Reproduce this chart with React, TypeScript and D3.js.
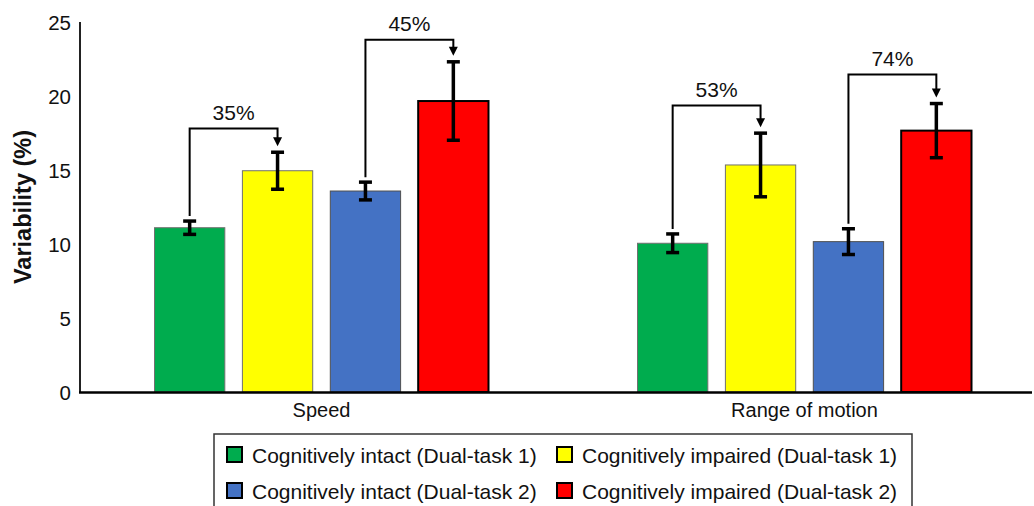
import React from "react";
import * as d3 from "d3";

const categories = ["Speed", "Range of motion"];
const seriesNames = [
  "Cognitively intact (Dual-task 1)",
  "Cognitively impaired (Dual-task 1)",
  "Cognitively intact (Dual-task 2)",
  "Cognitively impaired (Dual-task 2)",
];
const seriesColors = ["#00AC4E", "#FFFF00", "#4472C4", "#FF0000"];
const speedValues = [11.1, 14.95, 13.58, 19.66];
const speedErrors = [0.45, 1.25, 0.6, 2.65];
const romValues = [10.05, 15.34, 10.16, 17.66];
const romErrors = [0.63, 2.15, 0.87, 1.83];
const yTicks = [0, 5, 10, 15, 20, 25];

const annLabels = ["35%", "45%", "53%", "74%"];
const annGroups = [0, 0, 1, 1];
const annFrom = [0, 2, 0, 2];
const annTo = [1, 3, 1, 3];
const annLevels = [17.8, 23.8, 19.35, 21.45];

const W = 1034;
const H = 506;
const FONT = "'Liberation Sans', Arial, Helvetica, sans-serif";

export default function App() {
  const values = [speedValues, romValues];
  const errors = [speedErrors, romErrors];

  const y = d3.scaleLinear().domain([0, 25]).range([392, 22]);
  const x0 = d3.scaleBand<string>().domain(categories).range([80, 1046]).padding(0);
  const innerW = 334;
  const x1 = d3
    .scaleBand<number>()
    .domain([0, 1, 2, 3])
    .range([0, innerW])
    .paddingInner(0.2)
    .paddingOuter(0);

  const groupStart = (gi: number) =>
    (x0(categories[gi]) as number) + x0.bandwidth() / 2 - innerW / 2;
  const barX = (gi: number, si: number) => groupStart(gi) + (x1(si) as number);
  const barC = (gi: number, si: number) => barX(gi, si) + x1.bandwidth() / 2;

  const strokes = ["#707070", "#707070", "#505050", "#000"];
  const strokeW = [1, 1, 1, 2];

  return (
    <svg
      width={W}
      height={H}
      style={{ position: "absolute", left: 0, top: 0, background: "#fff" }}
      fontFamily={FONT}
    >
      {/* y tick labels */}
      {yTicks.map((t) => (
        <text
          key={t}
          x={71}
          y={y(t)}
          textAnchor="end"
          dominantBaseline="central"
          fontSize={20.5}
          fill="#111"
        >
          {t}
        </text>
      ))}
      <text
        transform={`translate(23,${207}) rotate(-90)`}
        textAnchor="middle"
        dominantBaseline="central"
        fontSize={23.5}
        fontWeight="bold"
        fill="#111"
      >
        Variability (%)
      </text>

      {/* bars */}
      {categories.map((c, gi) =>
        values[gi].map((v, si) => (
          <rect
            key={`${gi}-${si}`}
            x={barX(gi, si)}
            y={y(v)}
            width={x1.bandwidth()}
            height={y(0) - y(v)}
            fill={seriesColors[si]}
            stroke={strokes[si]}
            strokeWidth={strokeW[si]}
          />
        ))
      )}

      {/* error bars */}
      {categories.map((c, gi) =>
        values[gi].map((v, si) => {
          const cx = barC(gi, si);
          const e = errors[gi][si];
          return (
            <g key={`e${gi}-${si}`} stroke="#000" strokeWidth={3.5}>
              <line x1={cx} x2={cx} y1={y(v + e)} y2={y(v - e)} />
              <line x1={cx - 6.5} x2={cx + 6.5} y1={y(v + e)} y2={y(v + e)} />
              <line x1={cx - 6.5} x2={cx + 6.5} y1={y(v - e)} y2={y(v - e)} />
            </g>
          );
        })
      )}

      {/* axes */}
      <line x1={80} x2={80} y1={22} y2={393} stroke="#222" strokeWidth={2} />
      <line x1={79} x2={1032} y1={392.5} y2={392.5} stroke="#000" strokeWidth={2.5} />

      {categories.map((c) => (
        <text
          key={c}
          x={(x0(c) as number) + x0.bandwidth() / 2}
          y={417}
          textAnchor="middle"
          fontSize={20}
          fill="#111"
        >
          {c}
        </text>
      ))}

      {/* annotations */}
      {annLabels.map((lab, i) => {
        const gi = annGroups[i];
        const fi = annFrom[i];
        const ti = annTo[i];
        const xa = barC(gi, fi);
        const xb = barC(gi, ti);
        const ya = y(values[gi][fi] + errors[gi][fi]) - 5;
        const yTip = y(values[gi][ti] + errors[gi][ti]) - 6;
        const yl = y(annLevels[i]);
        return (
          <g key={lab}>
            <path
              d={`M${xa},${ya} V${yl} H${xb} V${yTip - 7}`}
              fill="none"
              stroke="#000"
              strokeWidth={2}
            />
            <path
              d={`M${xb - 4.5},${yTip - 9} L${xb + 4.5},${yTip - 9} L${xb},${yTip} Z`}
              fill="#000"
            />
            <text
              x={(xa + xb) / 2}
              y={yl - 9}
              textAnchor="middle"
              fontSize={21}
              fill="#111"
            >
              {lab}
            </text>
          </g>
        );
      })}

      {/* legend */}
      <rect x={214} y={434} width={698} height={90} fill="none" stroke="#333" strokeWidth={1.5} />
      {seriesNames.map((name, si) => {
        const col = si % 2;
        const row = Math.floor(si / 2);
        const lx = [226, 556][col];
        const ly = [455, 491][row];
        return (
          <g key={name}>
            <rect
              x={lx + 1}
              y={ly - 8}
              width={15}
              height={15}
              fill={seriesColors[si]}
              stroke="#000"
              strokeWidth={2}
            />
            <text
              x={lx + 26}
              y={ly}
              dominantBaseline="central"
              fontSize={21}
              fill="#111"
            >
              {name}
            </text>
          </g>
        );
      })}
    </svg>
  );
}
